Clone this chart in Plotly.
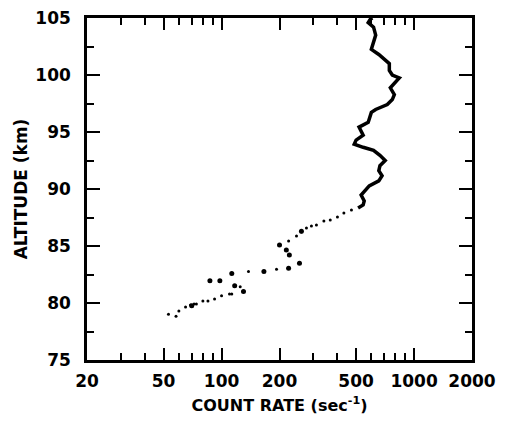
import plotly.graph_objects as go

# Upper, continuous part of the profile (count rate, altitude km)
upper_rate = [608, 593, 578, 616, 632, 616, 600, 656, 700, 744, 744, 771, 838, 790, 753,
              790, 771, 726, 665, 632, 600, 585, 578, 518, 531, 544, 500, 489, 544, 616,
              665, 708, 665, 656, 682, 656, 585, 551, 531, 551, 544, 512]
upper_alt = [105.0, 104.9, 104.6, 104.2, 103.5, 102.8, 102.25, 101.8, 101.4, 101.0, 100.4,
             100.0, 99.74, 99.31, 98.88, 98.28, 97.84, 97.41, 97.16, 96.98, 96.72, 96.12,
             95.86, 95.43, 95.0, 94.73, 94.29, 93.93, 93.66, 93.39, 92.95, 92.5, 92.05,
             91.6, 91.16, 90.71, 90.27, 89.82, 89.47, 88.95, 88.6, 88.33]

# Lower, scattered points (small dots)
dot_rate = [53, 58, 60, 65, 69, 72, 74, 80, 85, 92, 100, 110, 113, 125, 138, 193, 223,
            245, 260, 276, 293, 311, 340, 367, 400, 432, 473]
dot_alt = [79.02, 78.84, 79.29, 79.64, 79.82, 79.91, 79.91, 80.18, 80.18, 80.36, 80.63,
           80.8, 80.8, 81.43, 82.77, 82.95, 85.44, 85.88, 86.23, 86.58, 86.75, 86.84,
           87.19, 87.28, 87.54, 87.89, 88.16]

# Lower, larger blobs
blob_rate = [70, 87, 98, 113, 117, 130, 166, 223, 254, 225, 217, 200, 260]
blob_alt = [79.75, 81.96, 81.96, 82.59, 81.52, 81.0, 82.77, 83.04, 83.48, 84.2, 84.64,
            85.09, 86.3]

x_ticks = [20, 50, 100, 200, 500, 1000, 2000]
x_minor = [30, 40, 60, 70, 80, 90, 300, 400, 600, 700, 800, 900]
y_ticks = [75, 80, 85, 90, 95, 100, 105]
y_minor = [77.5, 82.5, 87.5, 92.5, 97.5, 102.5]

fig = go.Figure()
fig.add_trace(go.Scatter(x=upper_rate, y=upper_alt, mode="lines",
                         line=dict(color="black", width=3.5), hoverinfo="skip"))
fig.add_trace(go.Scatter(x=dot_rate, y=dot_alt, mode="markers",
                         marker=dict(color="black", size=3), hoverinfo="skip"))
fig.add_trace(go.Scatter(x=blob_rate, y=blob_alt, mode="markers",
                         marker=dict(color="black", size=5), hoverinfo="skip"))

tick_font = dict(family="DejaVu Sans, sans-serif", size=17, color="black", weight="bold")
xt_font = dict(family="DejaVu Sans, sans-serif", size=16, color="black", weight="bold")
yt_font = dict(family="DejaVu Sans, sans-serif", size=17, color="black", weight="bold")

fig.update_layout(
    width=512, height=422,
    margin=dict(l=79, r=48, t=10, b=70),
    paper_bgcolor="white", plot_bgcolor="white",
    showlegend=False,
    font=tick_font,
    xaxis=dict(
        type="log", range=[1.30103, 3.30103], automargin=False,
        tickmode="array", tickvals=x_ticks, ticktext=[str(v) for v in x_ticks],
        ticks="inside", ticklen=12, tickwidth=2, tickcolor="black",
        minor=dict(tickmode="array", tickvals=x_minor, ticks="inside", ticklen=7,
                   tickwidth=2, tickcolor="black"),
        showline=True, linecolor="black", linewidth=2.5, mirror="ticks",
        showgrid=False, zeroline=False,
        ticklabelstandoff=4, ticklabeloverflow="allow",
        title=dict(text="COUNT RATE (sec<sup>-1</sup>)", font=xt_font, standoff=10),
        tickfont=tick_font,
    ),
    yaxis=dict(
        range=[75, 105], automargin=False,
        tickmode="array", tickvals=y_ticks,
        ticks="inside", ticklen=13, tickwidth=2, tickcolor="black",
        minor=dict(tickmode="array", tickvals=y_minor, ticks="inside", ticklen=7,
                   tickwidth=2, tickcolor="black"),
        showline=True, linecolor="black", linewidth=2.5, mirror="ticks",
        showgrid=False, zeroline=False,
        ticklabelstandoff=10, ticklabeloverflow="allow",
        title=dict(text="ALTITUDE (km)", font=yt_font, standoff=4),
        tickfont=tick_font,
    ),
)

fig.write_html("out.html")
